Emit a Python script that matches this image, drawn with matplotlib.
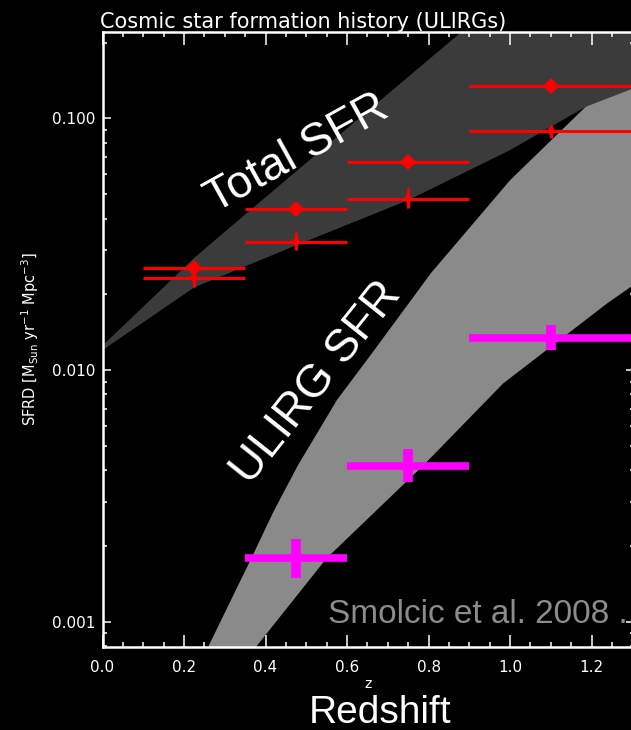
import numpy as np
import matplotlib.pyplot as plt
from matplotlib.ticker import MultipleLocator, LogLocator, FormatStrFormatter, NullFormatter

# redshift bins of the measurements
bin_lo = [0.1, 0.35, 0.6, 0.9]
bin_hi = [0.35, 0.6, 0.9, 1.3]
z_mid = [0.225, 0.475, 0.75, 1.1]

# total SFRD, two estimates (red)
sfrd_total_a = [0.0254, 0.0435, 0.0668, 0.134]
sfrd_total_b = [0.0233, 0.0324, 0.048, 0.0888]
sfrd_total_b_lo = [0.0213, 0.0299, 0.0439, 0.0835]
sfrd_total_b_hi = [0.0249, 0.0354, 0.0527, 0.0940]

# ULIRG SFRD (magenta)
ulirg_z = [0.475, 0.75, 1.1]
ulirg_bin_lo = [0.35, 0.6, 0.9]
ulirg_bin_hi = [0.6, 0.9, 1.3]
ulirg_sfrd = [0.0018, 0.00417, 0.01345]
ulirg_sfrd_lo = [0.0015, 0.00358, 0.01197]
ulirg_sfrd_hi = [0.00214, 0.00484, 0.01507]

# shaded bands, edges
total_up_z = [0.0, 0.225, 0.305, 0.47, 0.72, 0.88, 1.1, 1.31]
total_up = [0.0125, 0.0279, 0.036, 0.0606, 0.133, 0.22, 0.44, 0.85]
total_dn_z = [0.0, 0.225, 0.475, 0.75, 1.0, 1.185, 1.31]
total_dn = [0.0120, 0.0213, 0.0313, 0.0473, 0.0748, 0.111, 0.125]

ulirg_up_z = [0.24, 0.26, 0.366, 0.42, 0.48, 0.575, 0.66, 0.806, 1.0, 1.185, 1.31]
ulirg_up = [0.0007, 0.0008, 0.0018, 0.00275, 0.0042, 0.0076, 0.0116, 0.0243, 0.0568, 0.111, 0.133]
ulirg_dn_z = [0.35, 0.378, 0.55, 0.787, 0.983, 1.238, 1.31]
ulirg_dn = [0.0007, 0.0008, 0.00179, 0.00418, 0.00885, 0.0184, 0.0222]

W, H = 631, 730
fig = plt.figure(figsize=(W / 100, H / 100), dpi=100, facecolor='black')
ax = fig.add_axes([102.5 / W, (H - 646.5) / H, 531.9 / W, 614.5 / H])
ax.set_facecolor('black')

# bands
ax.fill(np.r_[total_up_z, total_dn_z[::-1]], np.r_[total_up, total_dn[::-1]],
        color='#3b3b3b', lw=0, zorder=1)
ax.fill(np.r_[ulirg_up_z, ulirg_dn_z[::-1]], np.r_[ulirg_up, ulirg_dn[::-1]],
        color='#8a8a8a', lw=0, zorder=2)

# red points
red = '#ff0000'
ax.hlines(sfrd_total_a, bin_lo, bin_hi, color=red, lw=2.2, zorder=3)
ax.hlines(sfrd_total_b, bin_lo, bin_hi, color=red, lw=2.2, zorder=3)
ax.vlines(z_mid, sfrd_total_b_lo, sfrd_total_b_hi, color=red, lw=2.2, zorder=3)
ax.plot(z_mid, sfrd_total_a, 'D', color=red, ms=8, mew=0, zorder=4)
ax.plot(z_mid, sfrd_total_b, 'D', color=red, ms=5.5, mew=0, zorder=4)

# magenta points
ax.hlines(ulirg_sfrd, ulirg_bin_lo, ulirg_bin_hi, color='#ff00ff', lw=5.5, zorder=5)
ax.vlines(ulirg_z, ulirg_sfrd_lo, ulirg_sfrd_hi, color='#ff00ff', lw=7, zorder=5)

ax.set_xlim(0, 1.305)
ax.set_yscale('log')
ax.set_ylim(0.000798, 0.2203)

ax.xaxis.set_major_locator(MultipleLocator(0.2))
ax.xaxis.set_minor_locator(MultipleLocator(0.05))
ax.xaxis.set_major_formatter(FormatStrFormatter('%.1f'))
ax.yaxis.set_major_locator(LogLocator(base=10))
ax.yaxis.set_minor_locator(LogLocator(base=10, subs=np.arange(2, 10)))
ax.yaxis.set_major_formatter(FormatStrFormatter('%.3f'))
ax.yaxis.set_minor_formatter(NullFormatter())

ax.tick_params(which='both', direction='in', top=True, right=True,
               color='white', labelcolor='white', width=1.1, labelsize=11)
ax.xaxis.set_tick_params(which='major', length=9, pad=10)
ax.xaxis.set_tick_params(which='minor', length=3.6)
ax.yaxis.set_tick_params(which='major', length=5.5, pad=5)
ax.yaxis.set_tick_params(which='minor', length=3)
for s in ax.spines.values():
    s.set_color('white')
    s.set_linewidth(1.8)
    s.set_zorder(6)

ax.set_xlabel('z', color='white', fontsize=10, labelpad=1)

fig.text(100 / W, 1 - 27.5 / H, 'Cosmic star formation history (ULIRGs)',
         color='white', fontsize=15, va='baseline', ha='left')
fig.text(30 / W, 1 - 339 / H, r'SFRD [M$_{\rm Sun}$ yr$^{-1}$ Mpc$^{-3}$]',
         color='white', fontsize=10.5, rotation=90, ha='center', va='center')

big = dict(family=['Liberation Sans', 'DejaVu Sans'], color='white')
fig.text(303 / W, 1 - 164 / H, 'Total SFR', fontsize=33, rotation=29,
         rotation_mode='anchor', ha='center', va='baseline', **big)
fig.text(326 / W, 1 - 390 / H, 'ULIRG SFR', fontsize=33, rotation=51.5,
         rotation_mode='anchor', ha='center', va='baseline', **big)
fig.text(380 / W, 1 - 723 / H, 'Redshift', fontsize=28, ha='center',
         va='baseline', **big)
fig.text(328 / W, 1 - 623 / H, 'Smolcic et al. 2008 .', fontsize=24,
         ha='left', va='baseline', family=['Liberation Sans', 'DejaVu Sans'],
         color='#8c8c8c')

fig.savefig('out.png', dpi=100, facecolor='black')
